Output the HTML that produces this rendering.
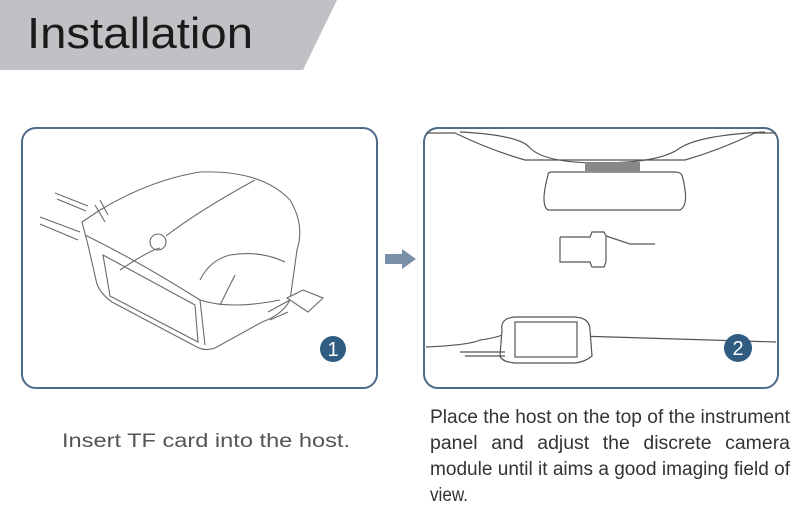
<!DOCTYPE html>
<html><head><meta charset="utf-8"><style>
html,body{margin:0;padding:0;background:#fff;}
svg{display:block;font-family:"Liberation Sans",sans-serif;}
</style></head><body>
<svg width="800" height="520" viewBox="0 0 800 520" xmlns="http://www.w3.org/2000/svg">
<polygon points="0,0 337,0 303,70 0,70" fill="#c0c1c4"/>
<text x="27" y="48" font-size="44" fill="#1a1a1a" textLength="226" lengthAdjust="spacingAndGlyphs">Installation</text>

<rect x="22" y="128" width="355" height="260" rx="14" fill="#fff" stroke="#4d6b8a" stroke-width="2"/>
<rect x="424" y="128" width="354" height="260" rx="14" fill="#fff" stroke="#4d6b8a" stroke-width="2"/>

<!-- device 1 -->
<g fill="none" stroke="#6a6a6a" stroke-width="1.1">
<path d="M40,217 L80,232 M40,224 L78,240 M55,193 L88,206 M57,199 L86,211"/>
<path d="M82,222 L100,210 Q150,180 200,172 Q262,170 290,200 Q305,225 297,250 L290,300 Q282,315 262,322 L215,348 Q205,352 195,346 L112,302 Q98,292 96,280 L88,245 Z" fill="#fff"/>
<path d="M85,235 Q140,262 200,300 Q230,310 280,300"/>
<path d="M103,255 L195,305 L198,342 L110,296 Z"/>
<path d="M200,300 L205,345"/>
<path d="M120,270 Q150,250 160,248 M166,236 Q200,210 255,180"/>
<circle cx="158" cy="242" r="8"/>
<path d="M200,280 Q210,260 230,255 Q260,250 285,262"/>
<path d="M220,305 L235,275"/>
<path d="M95,205 L105,222 M100,200 L108,215"/>
<path d="M287,298 L303,290 L323,298 L308,312 Z" fill="#fff"/>
<path d="M268,312 L290,300 M270,320 L288,312"/>
</g>
<circle cx="333" cy="349" r="13" fill="#2f5c80"/>
<text x="333" y="356" font-size="20" fill="#fff" text-anchor="middle">1</text>

<polygon points="385,254 402,254 402,249 416,259 402,269 402,264 385,264" fill="#7a8fa8"/>

<!-- scene 2 -->
<g fill="none" stroke="#555" stroke-width="1.2">
<path d="M426,133 L455,133 Q490,150 525,160 L685,160 Q720,150 755,133 L776,133"/>
<path d="M460,132 Q520,135 530,148 Q545,163 600,163 Q660,163 680,148 Q700,135 765,132"/>
<path d="M548,175 Q540,205 548,210 L680,210 Q690,205 682,175 Q680,172 675,172 L552,172 Q548,172 548,175 Z"/>
<path d="M560,237 L590,237 L592,232 L604,232 L606,236 L630,244 L655,244 M560,237 L560,262 L590,262 L592,267 L604,267 L606,262 L606,236"/>
<path d="M426,347 Q470,345 480,340 Q495,338 502,335 M578,336 Q650,338 776,342"/>
<path d="M502,330 Q500,318 515,317 L575,317 Q590,318 590,330 L592,356 Q585,362 575,363 L515,363 Q502,362 500,356 Z" fill="#fff"/>
<rect x="515" y="322" width="62" height="35"/>
<path d="M460,352 L505,352 M465,356 L505,356"/>
</g>
<rect x="585" y="162" width="55" height="9" fill="#888"/>
<circle cx="738" cy="348" r="14" fill="#2f5c80"/>
<text x="738" y="355" font-size="20" fill="#fff" text-anchor="middle">2</text>

<g font-size="19" fill="#555">
<text x="62" y="447" textLength="288" lengthAdjust="spacingAndGlyphs">Insert TF card into the host.</text>
</g>
<g font-size="19" fill="#333">
<text x="430" y="423" textLength="360" lengthAdjust="spacingAndGlyphs">Place the host on the top of the instrument</text>
<text x="430" y="449" textLength="360" lengthAdjust="spacingAndGlyphs" word-spacing="8">panel and adjust the discrete camera</text>
<text x="430" y="475" textLength="360" lengthAdjust="spacingAndGlyphs">module until it aims a good imaging field of</text>
<text x="430" y="501" textLength="38" lengthAdjust="spacingAndGlyphs">view.</text>
</g>
</svg>
</body></html>
